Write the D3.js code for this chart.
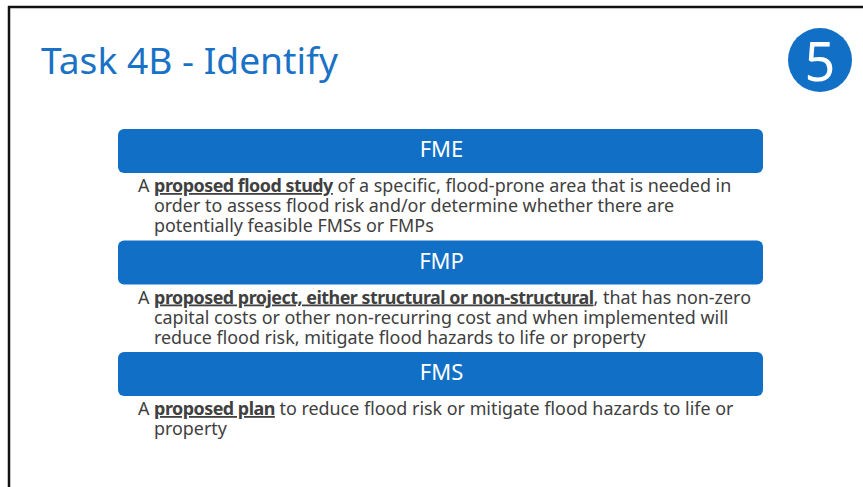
<!DOCTYPE html>
<html>
<head>
<meta charset="utf-8">
<script src="https://cdn.jsdelivr.net/npm/d3@7"></script>
<style>
html,body{margin:0;padding:0;background:#fff;}
svg{display:block;}
</style>
</head>
<body>
<svg id="chart" width="863" height="487"></svg>
<script>
const titleText = "Task 4B - Identify";
const slideNumber = "5";
const categories = ["FME", "FMP", "FMS"];
// each description: lines of segments [text, isBoldUnderlined]
const descFME = [
  [["A ", false], ["proposed flood study", true], [" of a specific, flood-prone area that is needed in", false]],
  [["order to assess flood risk and/or determine whether there are", false]],
  [["potentially feasible FMSs or FMPs", false]]
];
const descFMP = [
  [["A ", false], ["proposed project, either structural or non-structural", true], [", that has non-zero", false]],
  [["capital costs or other non-recurring cost and when implemented will", false]],
  [["reduce flood risk, mitigate flood hazards to life or property", false]]
];
const descFMS = [
  [["A ", false], ["proposed plan", true], [" to reduce flood risk or mitigate flood hazards to life or", false]],
  [["property", false]]
];
const descriptions = [descFME, descFMP, descFMS];

const FONT = "'Noto Sans', 'Open Sans', sans-serif";
const BLUE = "#1170c6";
const svg = d3.select("#chart");

// frame
svg.append("line").attr("x1", 8).attr("x2", 863).attr("y1", 7).attr("y2", 7)
  .attr("stroke", "#111").attr("stroke-width", 2.5);
svg.append("line").attr("x1", 9).attr("x2", 9).attr("y1", 6).attr("y2", 487)
  .attr("stroke", "#111").attr("stroke-width", 2.5);

// title
svg.append("text").attr("x", 41).attr("y", 74)
  .attr("font-family", FONT).attr("font-size", 37.2).attr("fill", "#1a72c6")
  .text(titleText);

// slide number badge
svg.append("circle").attr("cx", 820).attr("cy", 60).attr("r", 32).attr("fill", BLUE);
svg.append("text").attr("x", 820).attr("y", 81).attr("text-anchor", "middle")
  .attr("font-family", FONT).attr("font-size", 54).attr("fill", "#fff")
  .text(slideNumber);

// layout scales
const y = d3.scalePoint().domain(categories).range([129, 352]);
const x = d3.scaleLinear().domain([0, 1]).range([118, 763]);
const boxH = 44;

const g = svg.selectAll("g.item").data(categories).join("g").attr("class", "item");

g.append("rect")
  .attr("x", x(0)).attr("y", d => y(d))
  .attr("width", x(1) - x(0)).attr("height", boxH)
  .attr("rx", 6).attr("fill", BLUE);

g.append("text")
  .attr("x", (x(0) + x(1)) / 2 + 1).attr("y", d => y(d) + 28)
  .attr("text-anchor", "middle")
  .attr("font-family", FONT).attr("font-size", 22).attr("fill", "#fff")
  .text(d => d);

g.each(function(d, i) {
  const lines = descriptions[i];
  const t = d3.select(this).append("text")
    .attr("font-family", FONT).attr("font-size", 17.9).attr("fill", "#404040");
  lines.forEach((segs, li) => {
    segs.forEach((s, si) => {
      const ts = t.append("tspan").text(s[0]);
      if (si === 0) {
        ts.attr("x", li === 0 ? 138 : 154).attr("y", y(d) + boxH + 19 + li * 20);
      }
      if (s[1]) ts.attr("font-weight", "bold").attr("text-decoration", "underline")
        .attr("letter-spacing", -0.5);
    });
  });
});
</script>
</body>
</html>
